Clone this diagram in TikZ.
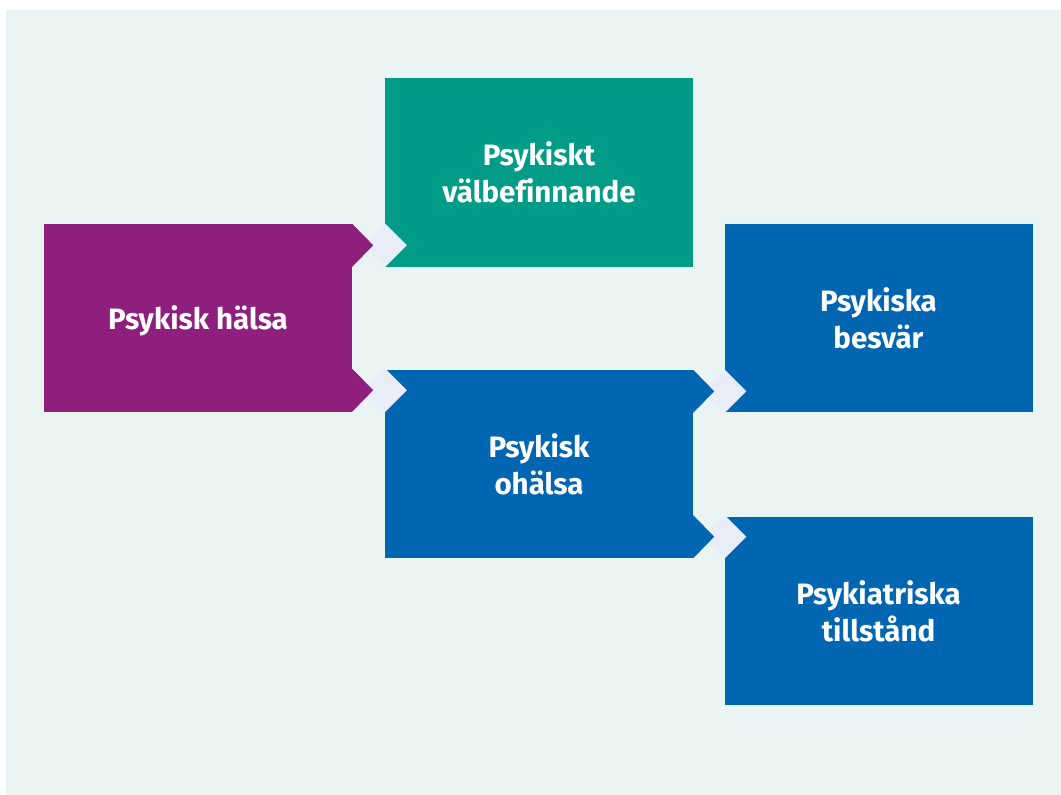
\documentclass[tikz,border=0pt]{standalone}
\usepackage{fontspec}
\setmainfont{Fira Sans}[Ligatures=NoCommon]
\usepackage{tikz}
\usetikzlibrary{calc}
\definecolor{bgpanel}{HTML}{EAF4F3}
\definecolor{gapcol}{HTML}{E9EDF8}
\definecolor{halsapurple}{HTML}{8E1F7C}
\definecolor{valgreen}{HTML}{009C87}
\definecolor{ohalsablue}{HTML}{0066B2}
\tikzset{
  areabox/.style={rectangle, inner sep=0pt, minimum width=308pt, minimum height=188pt,
    text=white, align=center, font=\fontsize{29.5}{37}\selectfont\bfseries},
}
\begin{document}
\begin{tikzpicture}[x=1pt, y=-1pt]
\useasboundingbox (0,0) rectangle (1061,795);
\fill[bgpanel] (6,10) rectangle (1061,795);
% boxes
\node[areabox, fill=halsapurple, text depth=0pt] (halsa) at (198,318) {Psykisk hälsa};
\node[areabox, fill=valgreen, minimum height=189pt] (valbef) at (539,172.5) {Psykiskt\\välbefinnande};
\node[areabox, fill=ohalsablue] (ohalsa) at (539,464) {Psykisk\\ohälsa};
\node[areabox, fill=ohalsablue] (besvar) at (878.5,318) {Psykiska\\besvär};
\node[areabox, fill=ohalsablue] (tillstand) at (878.5,611) {Psykiatriska\\tillstånd};
% chevrons between the boxes
\coordinate (c1) at ($(halsa.north east)+(0,21.5)$);
\coordinate (c2) at ($(halsa.south east)+(0,-22)$);
\coordinate (c3) at ($(ohalsa.north east)+(0,21.5)$);
\coordinate (c4) at ($(ohalsa.south east)+(0,-21.5)$);
\foreach \c/\src/\dst/\col in {c1/halsa/valbef/halsapurple, c2/halsa/ohalsa/halsapurple,
    c3/ohalsa/besvar/ohalsablue, c4/ohalsa/tillstand/ohalsablue}{
  \fill[gapcol] (\dst.west |- \c) ++(0,-22) -- ++(22,22) -- ++(-22,22) -- ++(-22,-22) -- cycle;
  \fill[\col] (\c) ++(0,-21.5) -- ++(21,21.5) -- ++(-21,21.5) -- cycle;
}
\end{tikzpicture}
\end{document}
